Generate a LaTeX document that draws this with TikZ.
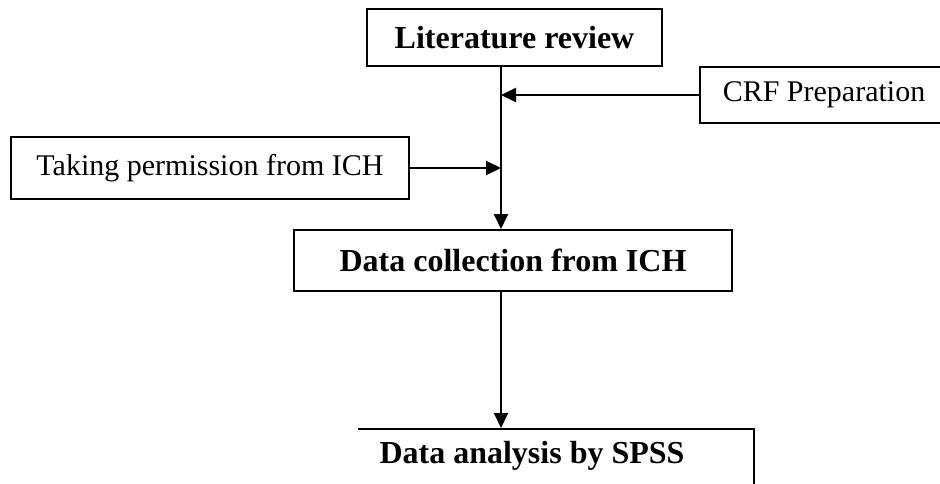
\documentclass[tikz,border=0pt]{standalone}
\usepackage{fontspec}
\setmainfont{Liberation Serif}
\usetikzlibrary{arrows.meta}
\begin{document}
\begin{tikzpicture}[x=1pt,y=-1pt,
  line width=1.9pt,
  box/.style={draw, rectangle, inner sep=0pt, anchor=center},
  plain/.style={font=\fontsize{30}{36}\selectfont},
  heading/.style={font=\fontsize{32}{38}\selectfont\bfseries},
  flow/.style={-{Triangle[length=15pt,width=14pt]}}]
\useasboundingbox (0,0) rectangle (940,483);

% boxes
\node[box, heading, minimum width=295pt, minimum height=57pt] (lit) at (514.5,37.5) {Literature review};
\node[box, plain, minimum width=248pt, minimum height=56pt] (crf) at (824,95) {CRF Preparation};
\node[box, plain, minimum width=398pt, minimum height=62pt] (perm) at (210,168) {Taking permission from ICH};
\node[box, heading, minimum width=438pt, minimum height=61pt] (coll) at (513,260.5) {Data collection from ICH};
\node[heading, inner sep=0pt] (anal) at (532,456) {Data analysis by SPSS};

% open frame of the last box (only its top and right sides)
\coordinate (analtl) at (358,429);
\coordinate (analtr) at (754,429);
\coordinate (analbr) at (754,495);
\draw (analtl) -- (analtr) -- (analbr);

% main spine
\coordinate (sp1) at (501,66);
\coordinate (sp2) at (501,229);
\coordinate (sp3) at (501,291);
\coordinate (sp4) at (501,428);
\draw[flow] (sp1) -- (sp2);
\draw[flow] (sp3) -- (sp4);

% side inputs
\draw[flow] (crf.west) -- (crf.west -| sp1);
\draw[flow] (perm.east) -- (perm.east -| sp1);
\end{tikzpicture}
\end{document}
